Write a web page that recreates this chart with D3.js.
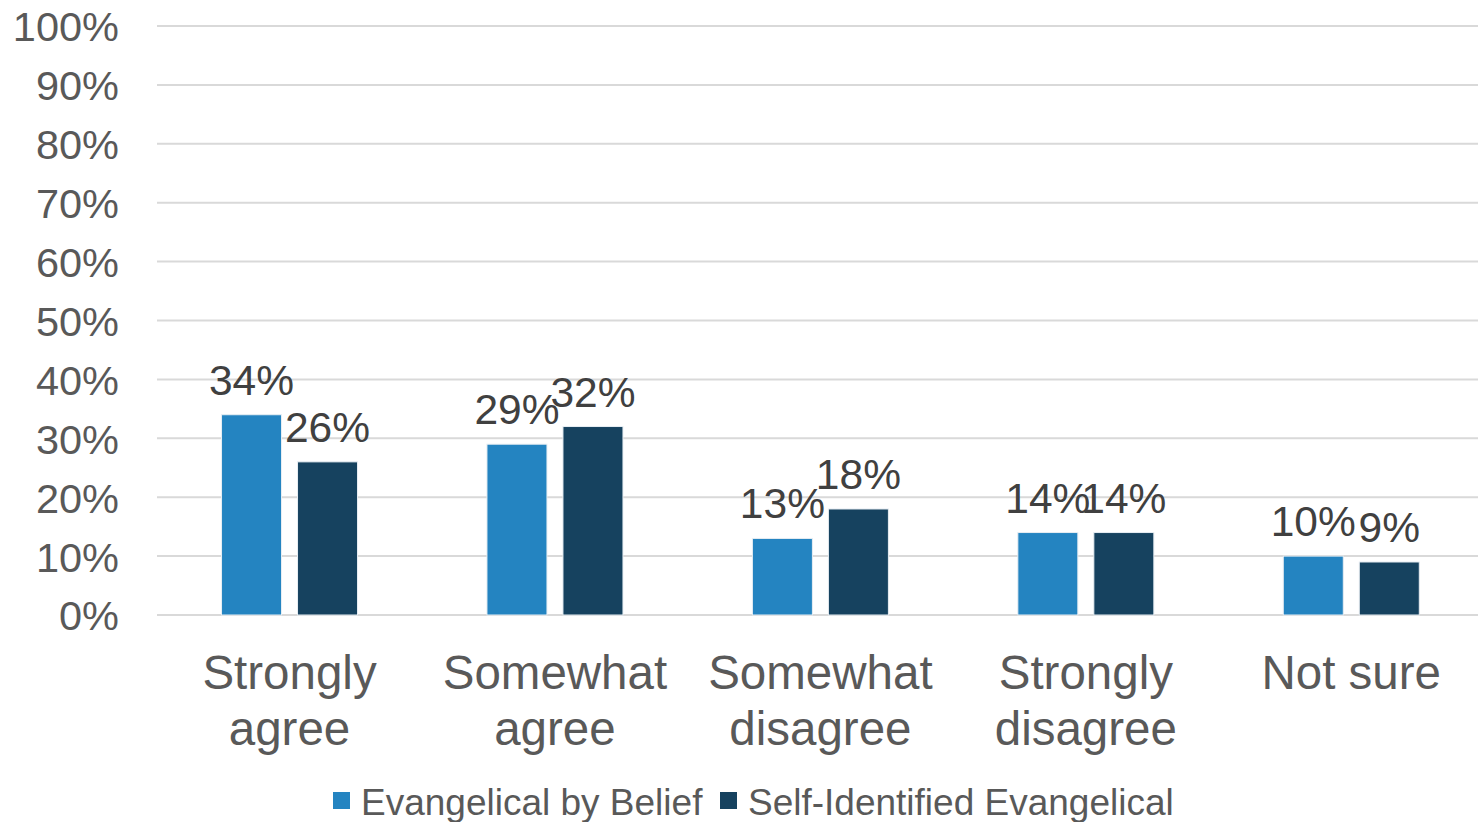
<!DOCTYPE html>
<html><head><meta charset="utf-8">
<script src="https://cdn.jsdelivr.net/npm/d3@7"></script>
<style>body{margin:0;background:#fff}svg{display:block}text{font-family:"Liberation Sans",Arial,sans-serif}</style>
</head><body>
<svg id="c" width="1478" height="822"></svg>
<script>
const categories = [["Strongly","agree"],["Somewhat","agree"],["Somewhat","disagree"],["Strongly","disagree"],["Not sure"]];
const seriesNames = ["Evangelical by Belief","Self-Identified Evangelical"];
const belief = [34,29,13,14,10];
const selfId = [26,32,18,14,9];
const yTicks = [0,10,20,30,40,50,60,70,80,90,100];
const colors = ["#2484C1","#16425F"];

(function(){
const svg = d3.select("#c");
const pl=157, pr=1478, pt=26, pb=615;
const x0 = d3.scaleBand().domain(d3.range(categories.length)).range([156.8,1484]);
const y = d3.scaleLinear().domain([0,100]).range([pb,pt]);
const series = [belief, selfId];

svg.append("g").selectAll("line").data(yTicks).join("line")
  .attr("x1",pl).attr("x2",pr).attr("y1",d=>y(d)).attr("y2",d=>y(d))
  .attr("stroke","#d9d9d9").attr("stroke-width",2);

const yAxis = d3.axisLeft(y).tickValues(yTicks).tickFormat(d=>d+"%").tickSize(0).tickPadding(0);
const ya = svg.append("g").attr("transform","translate(119,0)").call(yAxis);
ya.select(".domain").remove();
ya.selectAll("text").attr("font-size",41.5).attr("fill","#595959").attr("font-family","Liberation Sans, Arial, sans-serif").attr("dy","0.36em");

const barW = 60, gap = 16;
const offs = [-(barW/2+gap/2), (barW/2+gap/2)];

series.forEach((vals,si)=>{
  const g = svg.append("g");
  g.selectAll("rect").data(vals).join("rect")
    .attr("x",(d,i)=>x0(i)+x0.bandwidth()/2+offs[si]-barW/2)
    .attr("y",d=>y(d)).attr("width",barW).attr("height",d=>y(0)-y(d))
    .attr("fill",colors[si]).attr("stroke","#e8eef3").attr("stroke-width",1);
  g.selectAll("text").data(vals).join("text")
    .attr("x",(d,i)=>x0(i)+x0.bandwidth()/2+offs[si])
    .attr("y",d=>y(d)-20)
    .attr("text-anchor","middle").attr("font-size",42.5).attr("fill","#404040")
    .text(d=>d+"%");
});

const cg = svg.append("g");
categories.forEach((lines,i)=>{
  const t = cg.append("text").attr("x",x0(i)+x0.bandwidth()/2).attr("y",689)
    .attr("text-anchor","middle").attr("font-size",47.5).attr("fill","#595959");
  lines.forEach((l,j)=>t.append("tspan").attr("x",x0(i)+x0.bandwidth()/2).attr("dy",j?56:0).text(l));
});

const legX = [333,720];
seriesNames.forEach((n,i)=>{
  svg.append("rect").attr("x",legX[i]).attr("y",792).attr("width",17).attr("height",17).attr("fill",colors[i]);
  svg.append("text").attr("x",legX[i]+28).attr("y",815).attr("font-size",37).attr("fill","#595959").text(n);
});
})();
</script>
</body></html>
